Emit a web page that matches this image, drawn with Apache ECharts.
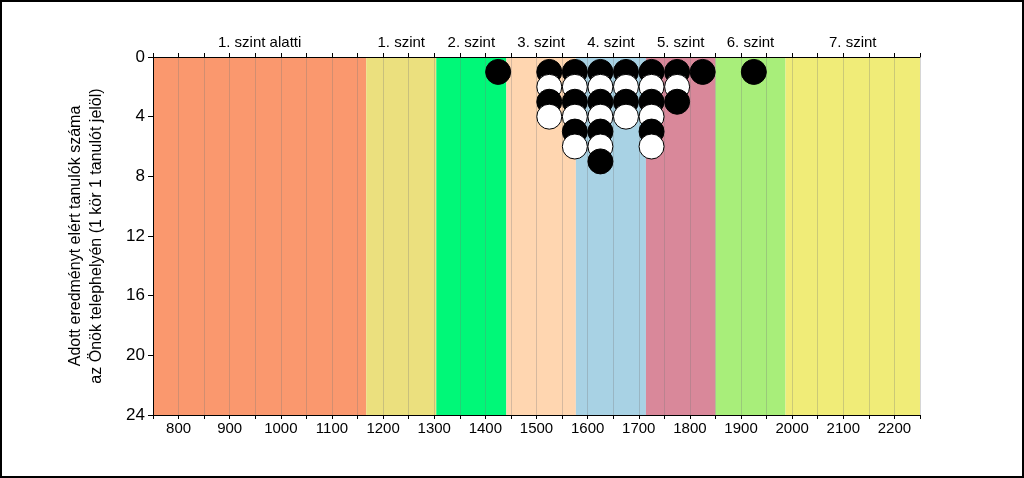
<!DOCTYPE html>
<html>
<head>
<meta charset="utf-8">
<script src="https://cdn.jsdelivr.net/npm/echarts@6/dist/echarts.min.js"></script>
<style>
html,body{margin:0;padding:0;background:#fff;}
#c{width:1024px;height:478px;}
</style>
</head>
<body>
<div id="c"></div>
<script>
// Level bands (score ranges)
var bandNames = ['1. szint alatti','1. szint','2. szint','3. szint','4. szint','5. szint','6. szint','7. szint'];
var bandStarts = [750, 1167, 1304, 1441, 1577, 1714, 1850, 1987];
var bandEnds   = [1167, 1304, 1441, 1577, 1714, 1850, 1987, 2250];
var bandColors = ['#FA986E','#EBE07E','#00F878','#FFD6B0','#A8D2E4','#D9889A','#A8EE7A','#F0EC78'];

// Students per score bin (bin centre)
var binCenters = [1425, 1525, 1575, 1625, 1675, 1725, 1775, 1825, 1925];
var binCounts  = [1, 4, 6, 7, 4, 6, 3, 1, 1];

var yTicks = [0, 4, 8, 12, 16, 20, 24];

var points = [];
for (var i = 0; i < binCenters.length; i++) {
  for (var k = 1; k <= binCounts[i]; k++) {
    points.push({value: [binCenters[i], k], itemStyle: {color: (k % 2 === 1) ? '#000000' : '#ffffff'}});
  }
}

var areas = [];
for (var j = 0; j < bandNames.length; j++) {
  areas.push([{xAxis: bandStarts[j], name: bandNames[j], itemStyle: {color: bandColors[j], opacity: 1}}, {xAxis: bandEnds[j]}]);
}

var chart = echarts.init(document.getElementById('c'));
chart.setOption({
  animation: false,
  textStyle: {fontFamily: 'Liberation Sans, Arial, sans-serif'},
  grid: {left: 153, right: 104, top: 57, bottom: 63},
  graphic: [{type: 'rect', shape: {x: 1, y: 1, width: 1022, height: 476}, style: {fill: 'none', stroke: '#000', lineWidth: 2}, z: 100}],
  xAxis: [{
    type: 'value', min: 750, max: 2250, interval: 50, position: 'bottom', z: 10,
    axisLine: {show: true, onZero: false, lineStyle: {color: '#000', width: 1}},
    axisTick: {show: true, length: 4, lineStyle: {color: '#000'}},
    axisLabel: {color: '#000', fontSize: 15, margin: 6, formatter: function (v) { return (v % 100 === 0 && v > 750 && v < 2250) ? String(v) : ''; }},
    splitLine: {show: true, lineStyle: {color: 'rgba(120,120,120,0.3)', width: 1}}
  }, {
    type: 'value', min: 750, max: 2250, interval: 50, position: 'top', z: 10,
    axisLine: {show: true, onZero: false, lineStyle: {color: '#000', width: 1}},
    axisTick: {show: true, length: 4, lineStyle: {color: '#000'}},
    axisLabel: {show: false},
    splitLine: {show: false}
  }],
  yAxis: {
    type: 'value', min: 0, max: 24, interval: 4, inverse: true, z: 10,
    name: 'Adott eredményt elért tanulók száma\naz Önök telephelyén (1 kör 1 tanulót jelöl)',
    nameLocation: 'middle', nameRotate: 90, nameGap: 46,
    nameTextStyle: {color: '#000', fontSize: 16, lineHeight: 21, align: 'center'},
    axisLine: {show: true, onZero: false, lineStyle: {color: '#000', width: 1}},
    axisTick: {show: true, length: 5, lineStyle: {color: '#000'}},
    axisLabel: {color: '#000', fontSize: 17, margin: 8},
    splitLine: {show: false}
  },
  series: [{
    type: 'scatter', data: [], z: 1, silent: true,
    markArea: {
      silent: true,
      label: {show: true, position: 'top', distance: 7, color: '#000', fontSize: 15},
      data: areas
    }
  }, {
    type: 'scatter', data: points, symbolSize: 25, z: 20,
    itemStyle: {borderColor: '#000', borderWidth: 1, opacity: 1}
  }]
});
</script>
</body>
</html>
